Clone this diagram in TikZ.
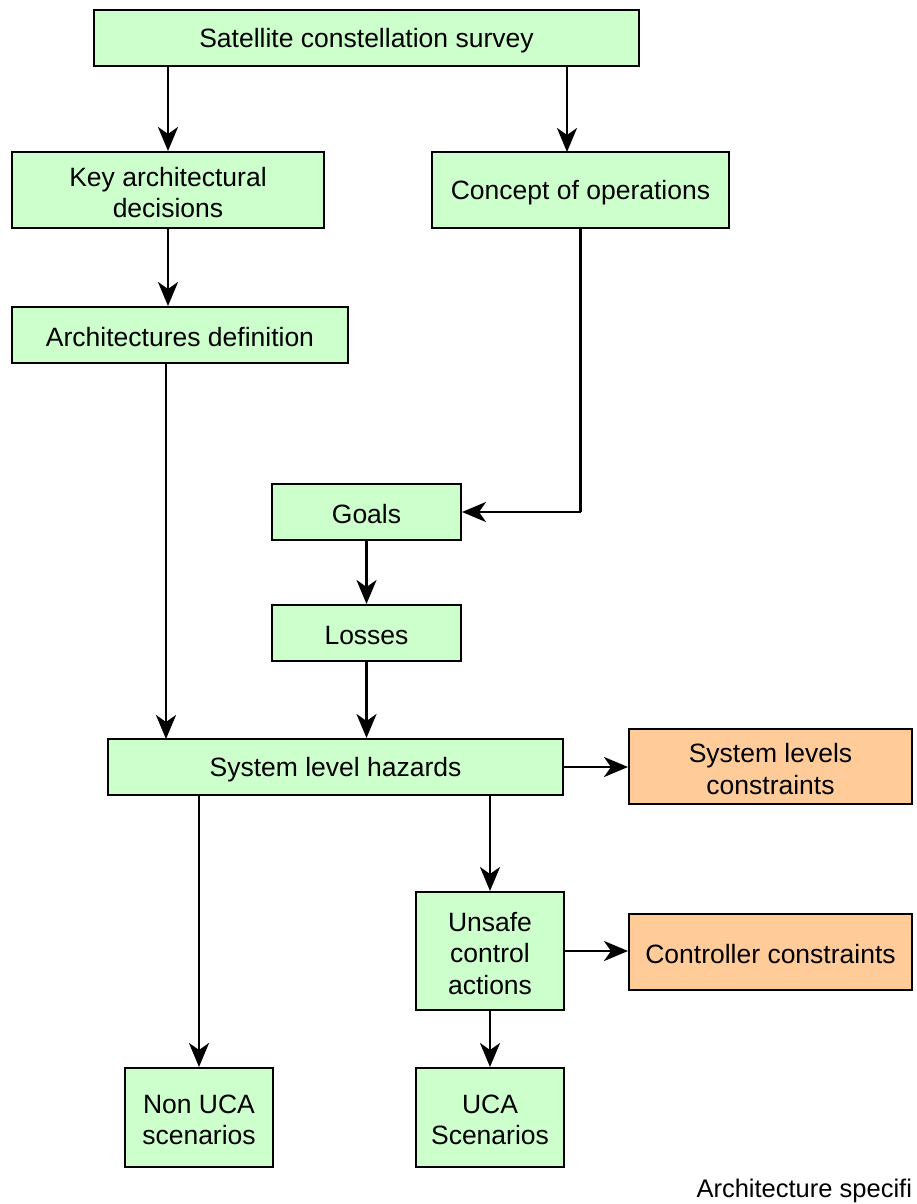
\documentclass[tikz,border=0pt]{standalone}
\usepackage{fontspec}
\setmainfont{Liberation Sans}
\usetikzlibrary{arrows.meta}
\definecolor{boxgreen}{HTML}{CCFFCC}
\definecolor{boxorange}{HTML}{FFCC99}
\begin{document}
\begin{tikzpicture}[x=1pt,y=-1pt,
  every node/.style={font=\fontsize{26.5}{31.5}\selectfont, text=black},
  gbox/.style={draw=black, line width=2pt, fill=boxgreen, inner sep=0pt},
  obox/.style={gbox, fill=boxorange},
  boxtext/.style={align=center, inner sep=0pt, yshift=-2.5pt},
  link/.style={line width=2.7pt},
  flow/.style={link, -{Stealth[length=24pt, width=20pt, inset=7pt]}}]
\useasboundingbox (0,0) rectangle (917,1204);
% boxes, placed by their centres with their sizes; the text sits a little below the middle
\newcommand{\blk}[6]{%
  \node[#1, minimum width=#4pt, minimum height=#5pt] (#2) at (#3) {};
  \node[boxtext] (#2-text) at (#2.center) {#6};}
\blk{gbox}{survey}{366.5,38}{545}{56}{Satellite constellation survey}
\blk{gbox}{kad}{168,190}{312}{76}{Key architectural\\decisions}
\blk{gbox}{conops}{580.5,190}{297}{76}{Concept of operations}
\blk{gbox}{archdef}{180,335}{336}{56}{Architectures definition}
\blk{gbox}{goals}{366.5,512}{189}{56}{Goals}
\blk{gbox}{losses}{366.5,633}{189}{56}{Losses}
\blk{gbox}{slh}{335.5,767}{455}{56}{System level hazards}
\blk{obox}{slc}{770.5,766.5}{283}{75}{System levels\\constraints}
\blk{gbox}{uca}{490,951}{148}{118}{Unsafe\\control\\actions}
\blk{obox}{cc}{770.5,952}{283}{76}{Controller constraints}
\blk{gbox}{nonuca}{199,1117.5}{148}{99}{Non UCA\\scenarios}
\blk{gbox}{ucasc}{490,1117.5}{148}{99}{UCA\\Scenarios}
\node[anchor=base west, font=\fontsize{25.5}{30}\selectfont] (caption) at (693,1197) {Architecture specifi};
% connectors
\coordinate (bend) at (conops.south |- goals.east);
\draw[flow] (survey.south -| kad.north) -- (kad.north);
\draw[flow] (567,66) -- (567,152);
\draw[flow] (kad.south) -- (archdef.north -| kad.south);
\draw[flow] (166,363) -- (166,739);
\draw[link] (conops.south) -- (bend);
\draw[flow] (bend) -- (goals.east);
\draw[flow] (goals.south) -- (losses.north);
\draw[flow] (losses.south) -- (slh.north -| losses.south);
\draw[flow] (slh.east) -- (slc.west |- slh.east);
\draw[flow] (490,795) -- (uca.north);
\draw[flow] (199,795) -- (nonuca.north);
\draw[flow] (uca.east) -- (cc.west |- uca.east);
\draw[flow] (uca.south) -- (ucasc.north);
\end{tikzpicture}
\end{document}
